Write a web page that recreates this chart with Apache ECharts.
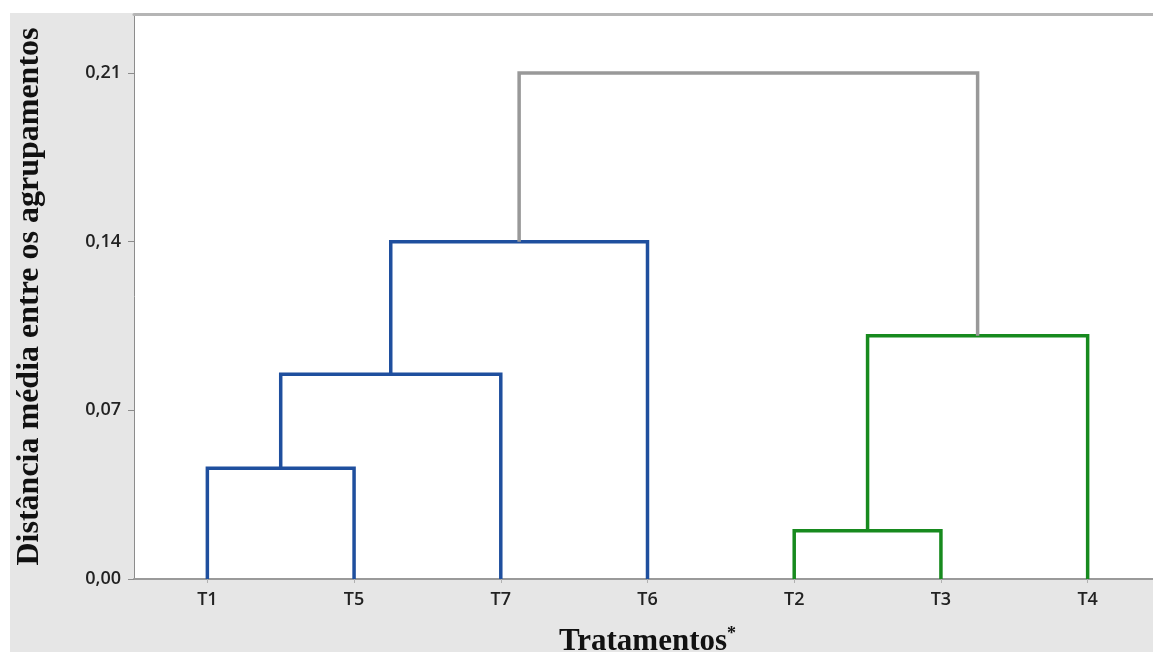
<!DOCTYPE html>
<html>
<head>
<meta charset="utf-8">
<script src="https://cdn.jsdelivr.net/npm/echarts@6/dist/echarts.min.js"></script>
<style>html,body{margin:0;padding:0;background:#fff;}#c{width:1153px;height:652px;}</style>
</head>
<body>
<div id="c"></div>
<script>
// Leaves in dendrogram order
const leaves = ['T1', 'T5', 'T7', 'T6', 'T2', 'T3', 'T4'];
// Merges: child indices (0-6 leaves, 7+ previous merges)
const mergePairs = [[0, 1], [7, 2], [8, 3], [4, 5], [10, 6], [9, 11]];
// Merge heights (distance)
const mergeHeights = [0.046, 0.085, 0.140, 0.020, 0.101, 0.210];
// Y tick values / labels
const yTicks = [0, 0.07, 0.14, 0.21];
const yTickLabels = ['0,00', '0,07', '0,14', '0,21'];

const linkColors = ['#1f4f9e', '#1f4f9e', '#1f4f9e', '#178a1e', '#178a1e', '#999999'];

const nodeX = leaves.map((_, i) => i);
const nodeH = leaves.map(() => 0);
const series = [];
mergePairs.forEach((p, k) => {
  const [a, b] = p;
  const h = mergeHeights[k];
  nodeX.push((nodeX[a] + nodeX[b]) / 2);
  nodeH.push(h);
  series.push({
    type: 'line',
    xAxisIndex: 1,
    yAxisIndex: 0,
    symbol: 'none',
    silent: true,
    animation: false,
    lineStyle: { color: linkColors[k], width: 3.5, join: 'miter', cap: 'butt' },
    data: [[nodeX[a], nodeH[a]], [nodeX[a], h], [nodeX[b], h], [nodeX[b], nodeH[b]]]
  });
});

const chart = echarts.init(document.getElementById('c'), null, { renderer: 'canvas' });
chart.setOption({
  animation: false,
  backgroundColor: '#ffffff',
  graphic: [{
    type: 'rect', left: 10, top: 13, z: -10,
    shape: { width: 1143, height: 639 },
    style: { fill: '#e6e6e6' }
  }],
  grid: {
    left: 134, width: 1027, top: 14, bottom: 73,
    outerBoundsMode: 'none',
    containLabel: false,
    show: true, backgroundColor: '#ffffff', borderWidth: 0
  },
  xAxis: [{
    type: 'category',
    data: leaves,
    boundaryGap: true,
    axisLine: { show: true, lineStyle: { color: '#9a9a9a', width: 2 } },
    axisTick: { show: true, alignWithLabel: true, length: 4, lineStyle: { color: '#b0b0b0' } },
    axisLabel: { color: '#222', fontSize: 18, fontFamily: 'Open Sans', fontWeight: 600, margin: 12 },
    splitLine: { show: false },
    name: '{a|Tratamentos}{b|*}',
    nameLocation: 'middle',
    nameGap: 46,
    nameTextStyle: {
      rich: {
        a: { fontFamily: 'Liberation Serif', fontWeight: 'bold', fontSize: 31, color: '#111' },
        b: { fontFamily: 'Liberation Serif', fontWeight: 'bold', fontSize: 18, color: '#111', verticalAlign: 'top', padding: [0, 0, 16, 0] }
      }
    }
  }, {
    type: 'value',
    position: 'top',
    min: -0.5, max: 6.5,
    axisLine: { show: true, onZero: false, lineStyle: { color: '#b5b5b5', width: 3 } },
    axisTick: { show: false },
    axisLabel: { show: false },
    splitLine: { show: false }
  }],
  yAxis: [{
    type: 'value',
    min: 0, max: 0.2345, interval: 0.07,
    axisLine: { show: true, onZero: false, lineStyle: { color: '#8c8c8c', width: 1 } },
    axisTick: { show: true, length: 6, lineStyle: { color: '#8c8c8c' } },
    axisLabel: {
      color: '#222', fontSize: 18, fontFamily: 'Open Sans', fontWeight: 600, margin: 13,
      showMaxLabel: false,
      formatter: v => {
        const i = yTicks.findIndex(t => Math.abs(t - v) < 1e-6);
        return i >= 0 ? yTickLabels[i] : '';
      }
    },
    splitLine: { show: false },
    name: 'Distância média entre os agrupamentos',
    nameLocation: 'middle',
    nameRotate: 90,
    nameGap: 88,
    nameTextStyle: { fontFamily: 'Liberation Serif', fontWeight: 'bold', fontSize: 32, color: '#111' }
  }],
  series: series
});
</script>
</body>
</html>
